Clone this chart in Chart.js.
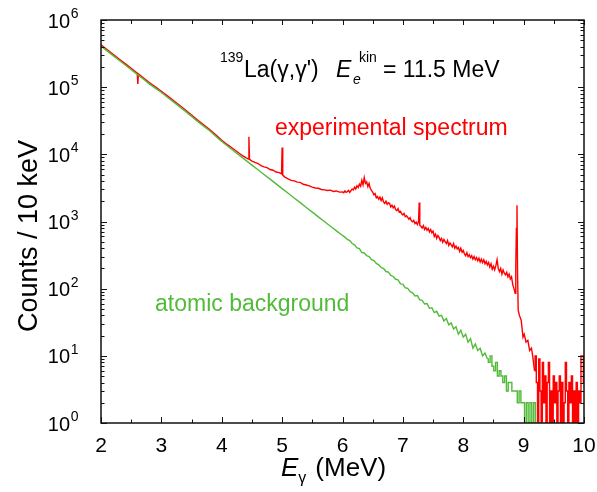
<!DOCTYPE html>
<html>
<head>
<meta charset="utf-8">
<script src="https://cdn.jsdelivr.net/npm/chart.js@4"></script>
<style>
  html, body { margin: 0; padding: 0; background: #fff; }
</style>
</head>
<body>
<canvas id="chart" width="597" height="492"></canvas>
<script>
// Données : spectre 139La(g,g') – [E (MeV), coups / 10 keV]
const expSpectrum = [
  [2.00,427000],[2.10,363000],[2.20,309000],[2.30,263000],[2.40,224000],[2.50,191000],
  [2.60,162000],[2.61,112000],[2.62,158000],[2.70,138000],[2.80,117000],[2.90,101000],
  [3.00,87100],[3.10,74100],[3.20,63100],[3.30,53700],[3.40,45700],[3.50,38500],
  [3.60,32400],[3.70,27500],[3.80,23400],[3.90,19500],[4.00,16200],[4.10,13800],
  [4.20,11900],[4.25,11000],[4.30,10200],[4.35,9500],[4.40,8910],[4.44,8510],
  [4.45,18200],[4.46,8400],[4.50,7940],[4.55,7600],[4.60,7300],[4.65,6800],
  [4.70,6500],[4.75,6350],[4.80,5950],[4.85,5800],[4.90,5450],[4.95,5350],
  [4.99,5130],[5.00,12600],[5.01,4900],[5.05,4550],[5.10,4300],[5.15,4100],
  [5.20,4020],[5.25,3850],[5.30,3820],[5.35,3580],[5.40,3500],[5.45,3400],
  [5.50,3250],[5.55,3150],[5.60,3120],[5.65,3000],[5.70,2960],[5.75,2900],
  [5.80,2930],[5.85,2800],[5.90,2850],[5.95,2740],[6.00,2750],[6.02,2680],
  [6.04,2850],[6.06,2720],[6.08,2790],[6.10,2900],[6.12,2700],[6.14,2880],
  [6.16,3050],[6.18,2950],[6.20,3250],[6.22,3050],[6.24,3400],[6.26,3200],
  [6.28,3600],[6.30,3350],[6.32,4100],[6.34,3500],[6.36,4500],[6.38,3700],
  [6.40,3900],[6.42,3300],[6.44,3700],[6.46,3100],[6.48,2900],[6.50,2750],
  [6.52,2500],[6.54,2600],[6.56,2250],[6.58,2350],[6.60,2150],[6.62,2300],
  [6.64,2050],[6.66,2250],[6.68,1950],[6.70,1850],[6.72,2000],[6.74,1800],
  [6.76,1900],[6.78,1850],[6.80,1650],[6.82,1750],[6.84,1600],[6.86,1700],
  [6.88,1500],[6.90,1450],[6.92,1550],[6.94,1380],[6.96,1420],[6.98,1300],
  [7.00,1250],[7.02,1320],[7.04,1180],[7.06,1220],[7.08,1150],[7.10,1080],
  [7.12,1140],[7.14,1020],[7.16,990],[7.18,1040],[7.20,930],[7.22,980],
  [7.24,900],[7.26,1000],[7.27,1910],[7.28,880],[7.30,850],[7.32,800],
  [7.34,870],[7.36,760],[7.38,820],[7.40,740],[7.42,790],[7.44,700],
  [7.46,760],[7.48,680],[7.50,720],[7.52,600],[7.54,650],[7.56,560],
  [7.58,620],[7.60,580],[7.62,520],[7.64,560],[7.66,490],[7.68,540],
  [7.70,500],[7.72,470],[7.74,520],[7.76,440],[7.78,480],[7.80,450],
  [7.82,420],[7.84,470],[7.86,400],[7.88,430],[7.90,390],[7.92,410],
  [7.94,360],[7.96,400],[7.98,350],[8.00,370],[8.02,330],[8.04,310],
  [8.06,345],[8.08,300],[8.10,320],[8.12,290],[8.14,310],[8.16,275],
  [8.18,300],[8.20,270],[8.22,290],[8.24,260],[8.26,285],[8.28,250],
  [8.30,275],[8.32,245],[8.34,270],[8.36,235],[8.38,255],[8.40,225],
  [8.42,245],[8.44,210],[8.46,235],[8.48,195],[8.50,215],[8.52,190],
  [8.54,220],[8.56,270],[8.58,200],[8.60,180],[8.62,200],[8.64,165],
  [8.66,190],[8.68,170],[8.70,160],[8.72,175],[8.74,150],[8.76,165],
  [8.78,140],[8.80,150],[8.82,115],[8.84,100],[8.86,85],[8.87,200],
  [8.88,790],[8.89,1740],[8.90,160],[8.91,48],[8.93,40],[8.96,34],
  [8.99,19],[9.01,21],[9.04,16],[9.07,17],[9.10,12],[9.13,13],
  [9.15,10],[9.18,6]
];
// queue à faible statistique (coups entiers, 0 = aucun coup)
const expTail = [
  [9.18,6],[9.20,10],[9.22,4],[9.24,0],[9.26,9],[9.28,3],[9.30,0],[9.32,8],
  [9.34,2],[9.36,5],[9.38,0],[9.40,4],[9.42,8],[9.44,1],[9.46,3],[9.48,0],
  [9.50,5],[9.52,2],[9.54,4],[9.56,0],[9.58,3],[9.60,5],[9.62,1],[9.64,4],
  [9.66,0],[9.68,2],[9.70,8],[9.72,3],[9.74,0],[9.76,4],[9.78,2],[9.80,5],
  [9.82,0],[9.84,3],[9.86,1],[9.88,4],[9.90,0],[9.92,3],[9.94,2],[9.96,10],
  [9.98,10],[10.00,4]
];

const bgSpectrum = [
  [2.0,407000],[2.1,347000],[2.2,295000],[2.3,251000],[2.4,214000],[2.5,182000],
  [2.6,155000],[2.7,132000],[2.8,112000],[2.9,96600],[3.0,83200],[3.1,70800],
  [3.2,60300],[3.3,51300],[3.4,43600],[3.5,36700],[3.6,30900],[3.7,26300],
  [3.8,22400],[3.9,18600],[4.0,15500],[4.1,13200],[4.2,11200],[4.3,9550],
  [4.4,8130],[4.5,6920],[4.6,5890],[4.7,5010],[4.8,4270],[4.9,3630],
  [5.0,3090],[5.1,2630],[5.2,2240],[5.3,1910],[5.4,1620],[5.5,1380],
  [5.6,1170],[5.7,1000],[5.8,851],[5.9,724],[6.00,620],[6.04,585],
  [6.08,540],[6.12,520],[6.16,470],[6.20,450],[6.24,405],[6.28,395],
  [6.32,345],[6.36,340],[6.40,310],[6.44,300],[6.48,270],[6.52,262],
  [6.56,238],[6.60,226],[6.64,205],[6.68,200],[6.72,180],[6.76,176],
  [6.80,158],[6.84,152],[6.88,138],[6.92,135],[6.96,118],[7.00,117],
  [7.04,103],[7.08,101],[7.12,90],[7.16,87],[7.20,78],[7.24,79],
  [7.28,68],[7.32,67],[7.36,59],[7.40,60],[7.44,51],[7.48,52],
  [7.52,44],[7.56,46],[7.60,39],[7.64,40],[7.68,33],[7.72,36],
  [7.76,29],[7.80,31],[7.84,25],[7.88,27],[7.92,21],[7.96,24],
  [8.00,19],[8.04,21],[8.08,16],[8.12,18],[8.16,13],[8.20,15],
  [8.24,12],[8.28,13],[8.32,10],[8.36,11],[8.40,9]
];
const bgTail = [
  [8.40,9],[8.43,8],[8.46,10],[8.49,7],[8.52,6],[8.55,8],[8.58,5],[8.61,6],
  [8.64,5],[8.67,4],[8.70,5],[8.73,3],[8.76,4],[8.79,4],[8.82,3],[8.85,3],
  [8.88,3],[8.91,2],[8.94,3],[8.97,2],[9.00,2],[9.03,1],[9.06,2],[9.09,1],
  [9.12,2],[9.15,1],[9.18,2],[9.21,1],[9.24,1],[9.26,0]
];

// Axes
const xTickValues = [2, 3, 4, 5, 6, 7, 8, 9, 10];
const yTickExponents = [0, 1, 2, 3, 4, 5, 6];

const RED = '#ff0000';
const GREEN = '#52bb3a';
const FONT = '"Liberation Sans", Arial, Helvetica, sans-serif';

// 0 coups -> sous l'axe (coupé par la zone du graphe)
function toPoints(arr) {
  return arr.map(([e, c]) => ({ x: e, y: c > 0 ? c : 0.1 }));
}

function txt(ctx, s, x, y, size, opts = {}) {
  ctx.font = (opts.italic ? 'italic ' : '') + size + 'px ' + FONT;
  ctx.fillStyle = opts.color || '#000';
  ctx.textAlign = opts.align || 'left';
  ctx.textBaseline = 'alphabetic';
  ctx.fillText(s, x, y);
  return ctx.measureText(s).width;
}

const framePlugin = {
  id: 'frame',
  afterDatasetsDraw(chart) {
    const { ctx, chartArea: a, scales: { x, y } } = chart;
    ctx.save();
    ctx.strokeStyle = '#111';
    ctx.lineWidth = 1;
    ctx.beginPath();
    // graduations x (bas + haut)
    for (let i = 0; i < xTickValues.length; i++) {
      const v = xTickValues[i];
      const px = Math.round(x.getPixelForValue(v)) + 0.5;
      ctx.moveTo(px, a.bottom); ctx.lineTo(px, a.bottom - 6);
      ctx.moveTo(px, a.top); ctx.lineTo(px, a.top + 5);
      if (i < xTickValues.length - 1) {
        const pm = Math.round(x.getPixelForValue(v + 0.5)) + 0.5;
        ctx.moveTo(pm, a.bottom); ctx.lineTo(pm, a.bottom - 3.5);
        ctx.moveTo(pm, a.top); ctx.lineTo(pm, a.top + 4);
      }
    }
    // graduations y (gauche + droite)
    yTickExponents.forEach(k => {
      const py = Math.round(y.getPixelForValue(Math.pow(10, k))) + 0.5;
      ctx.moveTo(a.left, py); ctx.lineTo(a.left + 6, py);
      ctx.moveTo(a.right, py); ctx.lineTo(a.right - 6, py);
      if (k < 6) {
        for (let m = 2; m <= 9; m++) {
          const pm = Math.round(y.getPixelForValue(m * Math.pow(10, k))) + 0.5;
          ctx.moveTo(a.left, pm); ctx.lineTo(a.left + 3.5, pm);
          ctx.moveTo(a.right, pm); ctx.lineTo(a.right - 3.5, pm);
        }
      }
    });
    ctx.stroke();
    // cadre
    ctx.lineWidth = 1.5;
    ctx.strokeRect(a.left, a.top, a.right - a.left, a.bottom - a.top);

    // étiquettes x
    xTickValues.forEach(v => {
      txt(ctx, String(v), x.getPixelForValue(v), 452, 21, { align: 'center' });
    });
    // étiquettes y : 10^k
    yTickExponents.forEach(k => {
      const py = y.getPixelForValue(Math.pow(10, k));
      txt(ctx, String(k), 78.5, py - 2, 14, { align: 'right' });
      txt(ctx, '10', 70, py + 7.5, 20, { align: 'right' });
    });

    // titre axe x : E_gamma (MeV)
    let cx = 281;
    cx += txt(ctx, 'E', cx, 476, 26, { italic: true });
    txt(ctx, 'γ', cx, 483, 16);
    txt(ctx, '(MeV)', cx + 17, 476, 26);

    // titre axe y
    ctx.save();
    ctx.translate(37, 236);
    ctx.rotate(-Math.PI / 2);
    txt(ctx, 'Counts / 10 keV', 0, 0, 27, { align: 'center' });
    ctx.restore();

    // annotation
    txt(ctx, '139', 220, 62, 14);
    txt(ctx, 'La(γ,γ\')', 244, 77, 23);
    txt(ctx, 'E', 336, 77, 23, { italic: true });
    txt(ctx, 'e', 353, 84, 14, { italic: true });
    txt(ctx, 'kin', 359, 62, 14);
    txt(ctx, '= 11.5 MeV', 383, 77, 23);

    txt(ctx, 'experimental spectrum', 275, 135, 23, { color: RED });
    txt(ctx, 'atomic background', 155, 311, 23, { color: GREEN });
    ctx.restore();
  }
};

const lineStyle = { borderWidth: 1.4, pointRadius: 0, fill: false, tension: 0 };

new Chart(document.getElementById('chart'), {
  type: 'line',
  data: {
    datasets: [
      { label: 'atomic background', data: toPoints(bgSpectrum), borderColor: GREEN, ...lineStyle },
      { label: 'atomic background (tail)', data: toPoints(bgTail), borderColor: GREEN, stepped: 'middle', ...lineStyle },
      { label: 'experimental spectrum', data: toPoints(expSpectrum), borderColor: RED, ...lineStyle },
      { label: 'experimental spectrum (tail)', data: toPoints(expTail), borderColor: RED, stepped: 'middle', ...lineStyle }
    ]
  },
  options: {
    responsive: false,
    animation: false,
    devicePixelRatio: 1,
    layout: { padding: { left: 101, right: 13, top: 20, bottom: 69 } },
    plugins: { legend: { display: false }, tooltip: { enabled: false } },
    scales: {
      x: { type: 'linear', min: 2, max: 10, display: false },
      y: { type: 'logarithmic', min: 1, max: 1e6, display: false }
    }
  },
  plugins: [framePlugin]
});
</script>
</body>
</html>
